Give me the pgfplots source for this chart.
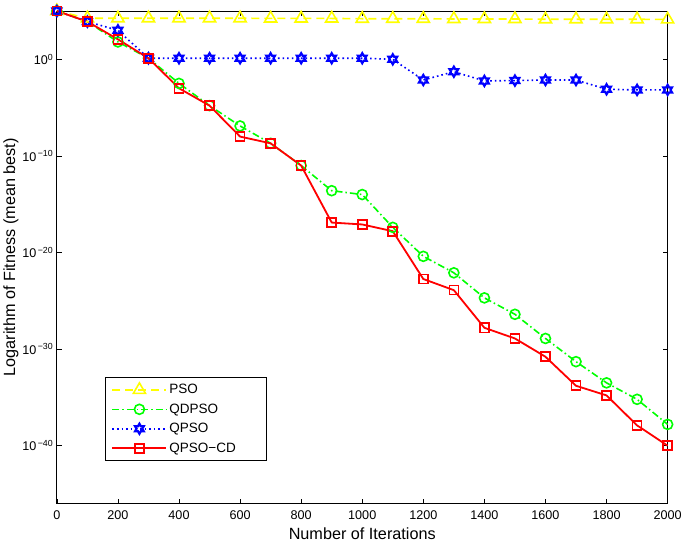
\documentclass[border=0pt]{standalone}
\usepackage{pgfplots}
\pgfplotsset{compat=1.18}
\usepackage{fontspec}
\setmainfont{Liberation Sans}
\definecolor{myyellow}{rgb}{1,1,0}
\definecolor{mygreen}{rgb}{0,1,0}
\definecolor{myblue}{rgb}{0,0,1}
\definecolor{myred}{rgb}{1,0,0}
\pgfdeclareplotmark{hexagram}{%
 \pgfpathmoveto{\pgfqpointpolar{90}{\pgfplotmarksize}}%
 \pgfpathlineto{\pgfqpointpolar{120}{0.577\pgfplotmarksize}}%
 \pgfpathlineto{\pgfqpointpolar{150}{\pgfplotmarksize}}%
 \pgfpathlineto{\pgfqpointpolar{180}{0.577\pgfplotmarksize}}%
 \pgfpathlineto{\pgfqpointpolar{210}{\pgfplotmarksize}}%
 \pgfpathlineto{\pgfqpointpolar{240}{0.577\pgfplotmarksize}}%
 \pgfpathlineto{\pgfqpointpolar{270}{\pgfplotmarksize}}%
 \pgfpathlineto{\pgfqpointpolar{300}{0.577\pgfplotmarksize}}%
 \pgfpathlineto{\pgfqpointpolar{330}{\pgfplotmarksize}}%
 \pgfpathlineto{\pgfqpointpolar{0}{0.577\pgfplotmarksize}}%
 \pgfpathlineto{\pgfqpointpolar{30}{\pgfplotmarksize}}%
 \pgfpathlineto{\pgfqpointpolar{60}{0.577\pgfplotmarksize}}%
 \pgfpathclose
 \pgfusepathqstroke
}
\begin{document}
\begin{tikzpicture}
\begin{axis}[
  scale only axis,
  width=610pt, height=492pt,
  ymode=log, log basis y=10,
  xmin=0, xmax=2000, ymin=1e-46, ymax=1e5,
  xtick={0,200,...,2000},
  ytick={1e0,1e-10,1e-20,1e-30,1e-40},
  yticklabels={10\textsuperscript{0},10\textsuperscript{\,−10},10\textsuperscript{\,−20},10\textsuperscript{\,−30},10\textsuperscript{\,−40}},
  minor ytick={}, minor xtick={},
  tick align=inside,
  xtick pos=both, ytick pos=both,
  major tick length=5pt,
  /pgf/number format/assume math mode=true,
  /pgf/number format/1000 sep={},
  scaled x ticks=false,
  xticklabel style={font=\fontsize{12.6}{14}\selectfont, yshift=-4pt},
  yticklabel style={font=\fontsize{12.6}{14}\selectfont},
  xlabel={Number of Iterations},
  ylabel={Logarithm of Fitness (mean best)},
  label style={font=\fontsize{16.2}{18}\selectfont},
  xlabel style={yshift=-1pt},
  ylabel style={yshift=-3pt},
  axis line style={line width=0.9pt},
  every tick/.style={black, line width=0.7pt},
  legend style={at={(0.079,0.257)}, anchor=north west, font=\fontsize{13.5}{15}\selectfont, draw=black, line width=0.7pt, row sep=4.5pt, inner xsep=6pt, inner ysep=5pt},
  legend cell align=left,
  legend image code/.code={\draw[mark repeat=2,mark phase=2] plot coordinates {(0cm,0cm) (0.95cm,0cm) (1.9cm,0cm)};},
  clip=false,
]
\addplot[color=myyellow, line width=1.6pt, dash pattern=on 8pt off 5pt, mark=triangle, mark size=7pt, mark options={solid, line width=1.6pt}] coordinates {
(0,1e5) (100,1.8e4) (200,1.8e4) (300,1.8e4) (400,1.8e4) (500,1.8e4) (600,1.8e4) (700,1.7e4) (800,1.7e4) (900,1.7e4) (1000,1.6e4)
(1100,1.6e4) (1200,1.6e4) (1300,1.5e4) (1400,1.5e4) (1500,1.5e4) (1600,1.4e4) (1700,1.4e4) (1800,1.4e4) (1900,1.4e4) (2000,1.35e4)};
\addlegendentry{PSO}
\addplot[color=mygreen, line width=1.6pt, dash pattern=on 7pt off 3pt on 1.5pt off 3pt, mark=o, mark size=5pt, mark options={solid, line width=1.6pt}] coordinates {
(0,1e5) (100,8e3) (200,63) (300,1.3) (400,3.2e-3) (500,1.6e-5) (600,1.26e-7) (700,2e-9) (800,1e-11) (900,2.5e-14) (1000,1e-14)
(1100,4e-18) (1200,4e-21) (1300,7.9e-23) (1400,2e-25) (1500,4e-27) (1600,1.26e-29) (1700,5e-32) (1800,3.2e-34) (1900,6.3e-36) (2000,1.6e-38)};
\addlegendentry{QDPSO}
\addplot[color=myblue, line width=1.6pt, dash pattern=on 1.6pt off 3pt, mark=hexagram, mark size=5pt, mark options={solid, line width=2.2pt}] coordinates {
(0,1e5) (100,8e3) (200,1e3) (300,1.3) (400,1.3) (500,1.3) (600,1.3) (700,1.3) (800,1.3) (900,1.3) (1000,1.3)
(1100,1.0) (1200,7.2e-3) (1300,5.2e-2) (1400,5.8e-3) (1500,6.3e-3) (1600,7.2e-3) (1700,7.2e-3) (1800,7.9e-4) (1900,6.8e-4) (2000,6.8e-4)};
\addlegendentry{QPSO}
\addplot[color=myred, line width=1.8pt, solid, mark=square, mark size=4.5pt, mark options={solid, line width=1.6pt}] coordinates {
(0,1e5) (100,8e3) (200,117) (300,1.3) (400,1e-3) (500,1.6e-5) (600,1e-8) (700,2e-9) (800,1e-11) (900,1.26e-17) (1000,8e-18)
(1100,1.6e-18) (1200,1.8e-23) (1300,1.26e-24) (1400,1.6e-28) (1500,1.26e-29) (1600,1.6e-31) (1700,1.6e-34) (1800,1.6e-35) (1900,1.26e-38) (2000,1e-40)};
\addlegendentry{QPSO−CD\hspace*{22pt}}
\end{axis}
\path ([yshift=11pt]current axis.north west);
\end{tikzpicture}
\end{document}
